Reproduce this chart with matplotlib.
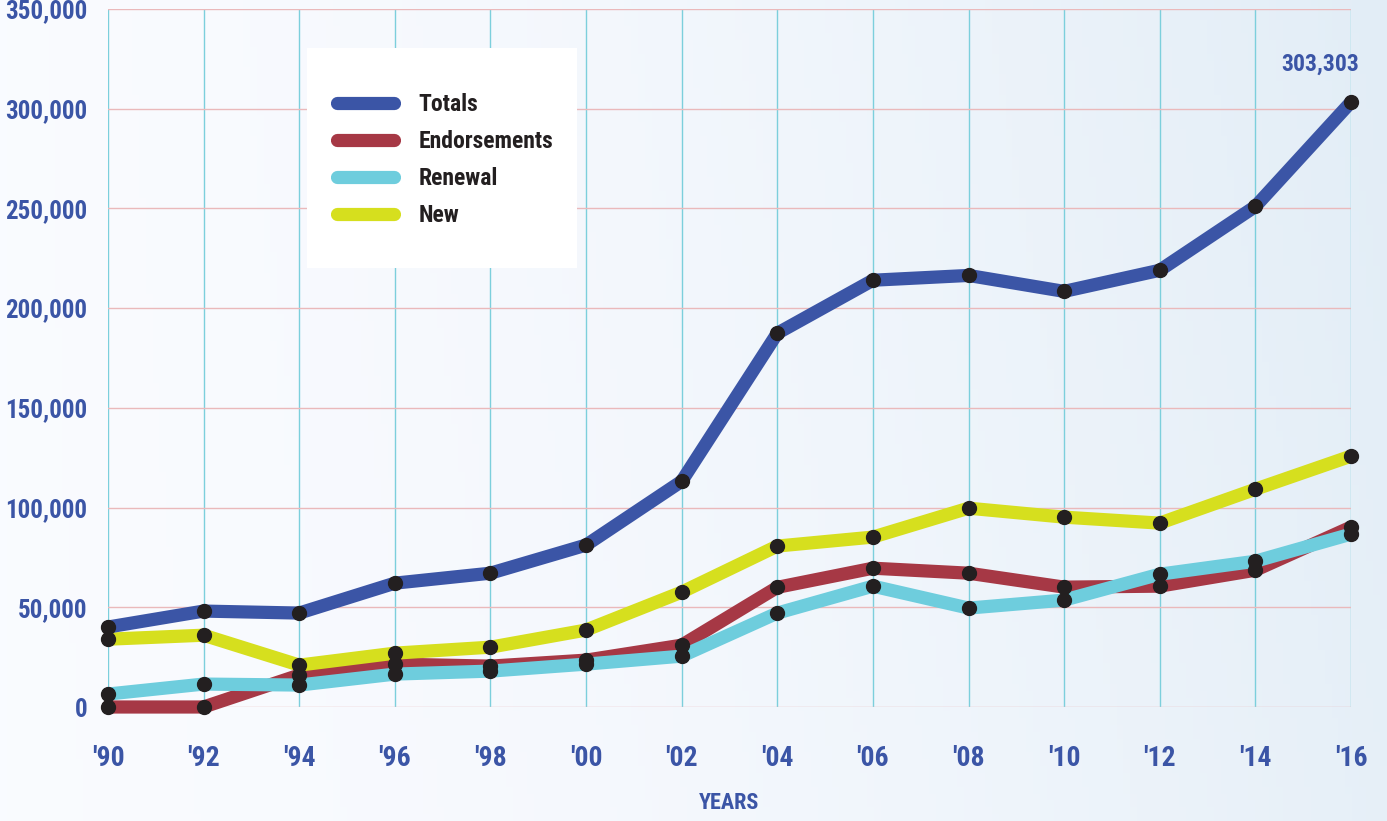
import numpy as np
import matplotlib.pyplot as plt
from matplotlib import font_manager
from matplotlib.lines import Line2D
from matplotlib.patches import Rectangle
from matplotlib.ticker import FuncFormatter

years = [1990, 1992, 1994, 1996, 1998, 2000, 2002, 2004, 2006, 2008, 2010, 2012, 2014, 2016]
totals = [40100, 48100, 47100, 62100, 67100, 81200, 113200, 187400, 214000, 216400, 208400, 219000, 251000, 303303]
endorsements = [0, 0, 16000, 21500, 20500, 23500, 31000, 60000, 69600, 67100, 60100, 60600, 68600, 90200]
renewal = [6500, 11500, 11000, 16500, 18000, 21500, 25500, 47100, 60600, 49600, 53600, 66600, 73100, 86700]
new = [34000, 36000, 21000, 27000, 30000, 38600, 57600, 80700, 85200, 99700, 95200, 92200, 109200, 125800]
x_labels = ["'90", "'92", "'94", "'96", "'98", "'00", "'02", "'04", "'06", "'08", "'10", "'12", "'14", "'16"]

blue = '#3b55a6'
red = '#a63845'
cyan = '#6ecddd'
yellow = '#d6df1e'
dark = '#231f20'

# pick the narrowest bold face that is installed
names = {f.name for f in font_manager.fontManager.ttflist}
narrow = 'DejaVu Sans'
for cand in ['Liberation Sans Narrow', 'DejaVu Sans Condensed', 'Roboto Condensed', 'Roboto', 'Liberation Sans']:
    if cand in names:
        narrow = cand
        break
font = [narrow, 'DejaVu Sans']

fig = plt.figure(figsize=(13.87, 8.21), dpi=100)

# soft background gradient
bg = fig.add_axes([0, 0, 1, 1])
gx = np.linspace(0, 1, 200)
gy = np.linspace(0, 1, 120)
GX, GY = np.meshgrid(gx, gy)
g = np.clip(0.55 * GX**2 + 0.3 * (1 - GY) * GX + 0.15 * GY * GX, 0, 1)
c0 = np.array([0.98, 0.985, 1.0])
c1 = np.array([0.87, 0.92, 0.96])
img = c0 + (c1 - c0) * g[..., None]
bg.imshow(img, aspect='auto', extent=[0, 1, 0, 1], origin='upper')
bg.set_axis_off()

ax = fig.add_axes([108 / 1387, 1 - 707 / 821, (1351 - 108) / 1387, (707 - 9) / 821])
ax.set_facecolor('none')
ax.set_xlim(1990, 2016)
ax.set_ylim(0, 350000)

series = [
    (endorsements, red, 'Endorsements'),
    (renewal, cyan, 'Renewal'),
    (new, yellow, 'New'),
    (totals, blue, 'Totals'),
]
for vals, col, name in series:
    ax.plot(years, vals, color=col, lw=9.5, solid_capstyle='round', solid_joinstyle='round',
            clip_on=False, zorder=3)
for vals, col, name in series:
    ax.plot(years, vals, 'o', color=dark, ms=10, clip_on=False, zorder=5)

ax.set_xticks(years)
ax.set_xticklabels(x_labels)
ax.set_yticks(np.arange(0, 350001, 50000))
ax.yaxis.set_major_formatter(FuncFormatter(lambda v, p: f'{int(v):,}'))
ax.tick_params(length=0, labelcolor=blue)
ax.tick_params(axis='y', labelsize=18, pad=15)
ax.tick_params(axis='x', labelsize=20, pad=27)
for lab in ax.get_xticklabels() + ax.get_yticklabels():
    lab.set_family(font)
    lab.set_fontweight('bold')

ax.grid(axis='y', color='#eab9bb', lw=1)
ax.grid(axis='x', color='#7ccfdc', lw=1)
ax.set_axisbelow(True)
for s in ax.spines.values():
    s.set_visible(False)

ax.set_xlabel('YEARS', family=font, fontweight='bold', fontsize=16, color=blue, labelpad=15)

ax.annotate(f'{totals[-1]:,}', (years[-1], totals[-1]), xytext=(-22, 19), textcoords='offset points',
            ha='center', va='bottom', family=font, fontweight='bold', fontsize=17, color=blue)

# white legend panel
fig.patches.append(Rectangle((307 / 1387, 1 - 268 / 821), 270 / 1387, 220 / 821,
                             transform=fig.transFigure, facecolor='white', edgecolor='none', zorder=4))

handles = [Line2D([], [], color=c, lw=9.5, solid_capstyle='round') for c in [blue, red, cyan, yellow]]
leg = fig.legend(handles, ['Totals', 'Endorsements', 'Renewal', 'New'],
                 loc='upper left', bbox_to_anchor=(337 / 1387, 1 - 93 / 821),
                 prop={'family': font, 'weight': 'bold', 'size': 17},
                 frameon=False, handlelength=2.4, handletextpad=1.05, labelspacing=0.6,
                 borderpad=0, borderaxespad=0)
leg.set_zorder(6)
for t in leg.get_texts():
    t.set_color(dark)

fig.savefig('out.png', dpi=100)
